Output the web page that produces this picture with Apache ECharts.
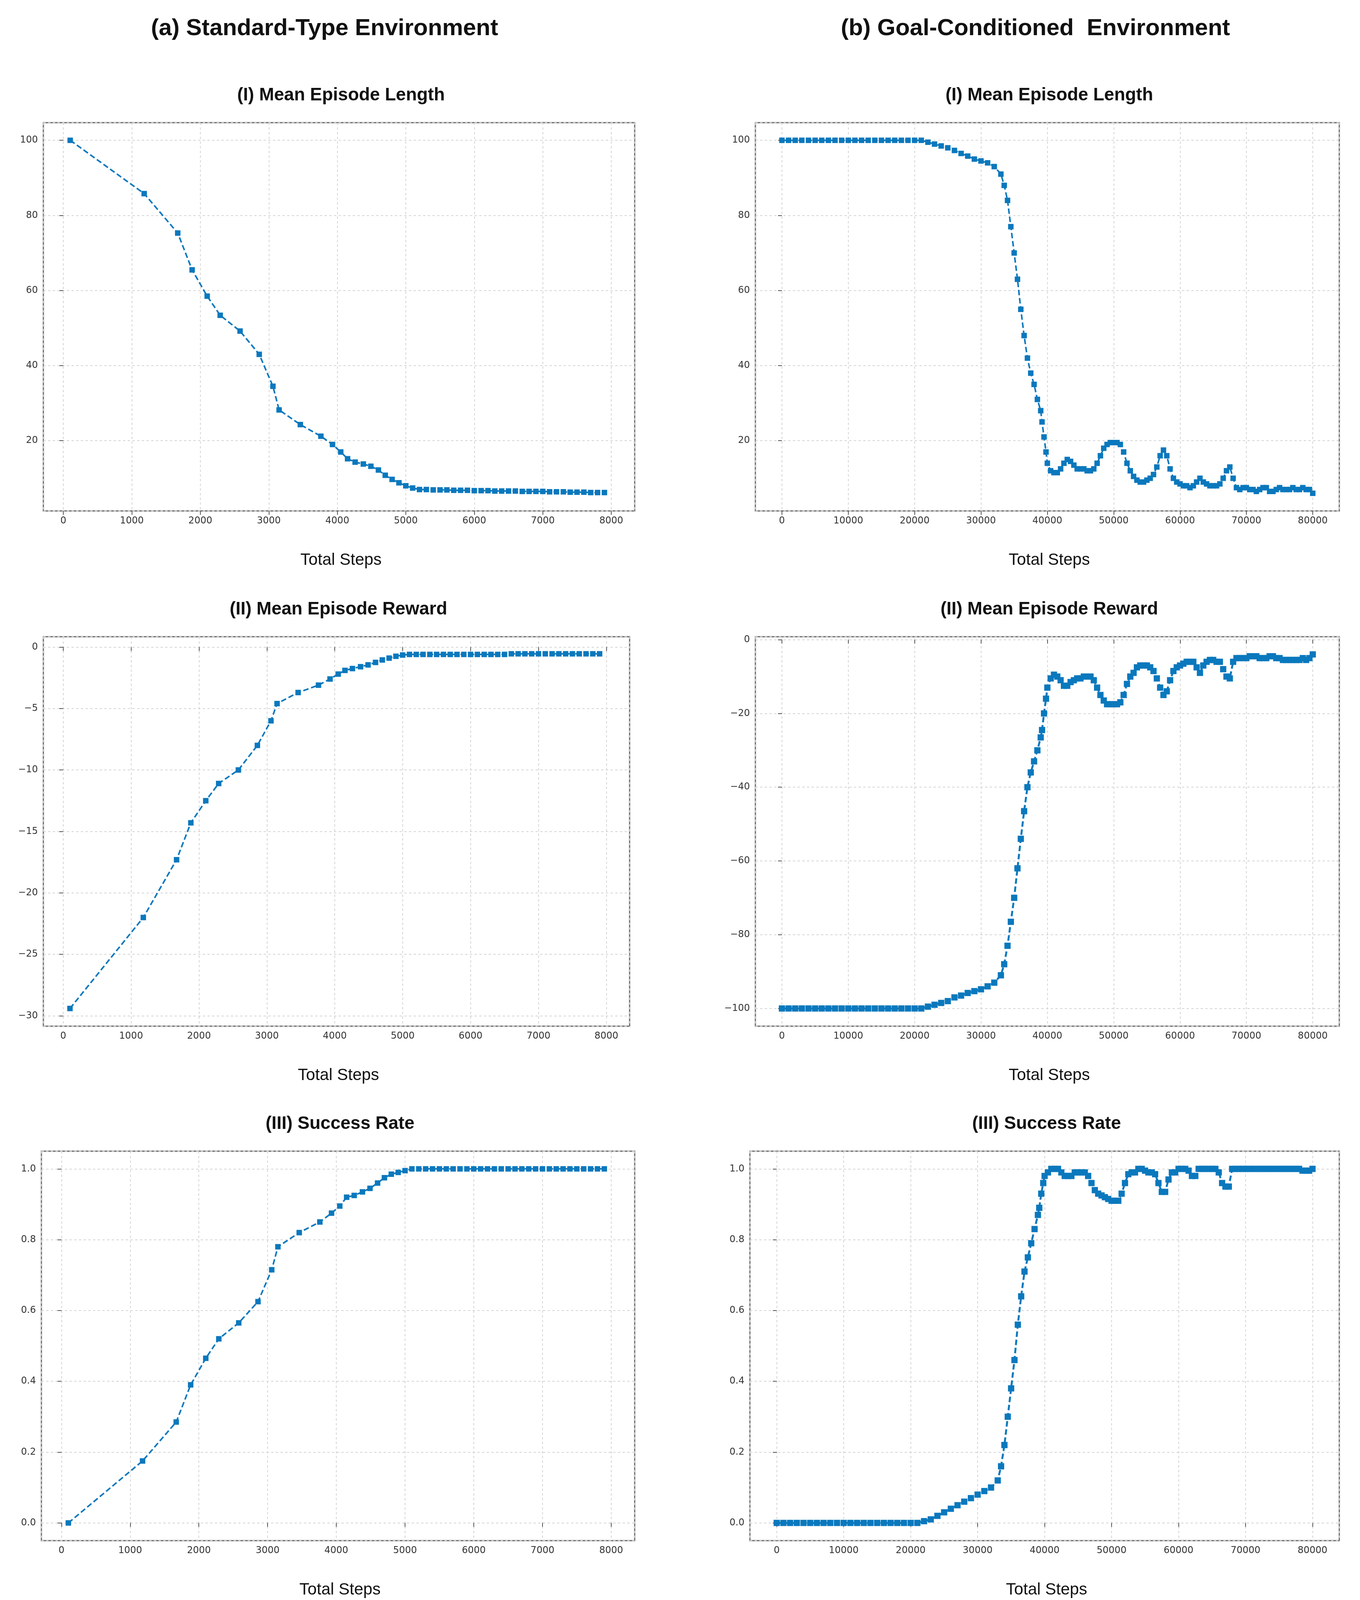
<!DOCTYPE html>
<html><head><meta charset="utf-8">
<script src="https://cdn.jsdelivr.net/npm/echarts@6/dist/echarts.min.js"></script>
<style>html,body{margin:0;padding:0;background:#fff}#c{width:3482px;height:4130px}</style>
</head><body><div id="c"></div>
<script>
const stdSteps=[100,1180,1670,1880,2100,2290,2580,2860,3060,3150,3460,3760,3930,4050,4150,4260,4380,4490,4600,4700,4800,4900,5000,5100,
5200,5300,5400,5500,5600,5700,5800,5900,6000,6100,6200,6300,6400,6500,6600,6700,6800,6900,7000,7100,7200,7300,7400,7500,7600,7700,7800,7900];
const stdLength=[100,85.8,75.3,65.5,58.5,53.4,49.2,43,34.5,28.2,24.3,21.2,19,17,15.2,14.3,13.8,13.2,12.2,10.8,9.7,8.8,8,7.4,
7,7,6.9,6.9,6.9,6.8,6.8,6.8,6.7,6.7,6.7,6.6,6.6,6.6,6.6,6.5,6.5,6.5,6.5,6.4,6.4,6.4,6.3,6.3,6.3,6.2,6.2,6.2];
const stdReward=[-29.4,-22,-17.3,-14.3,-12.5,-11.1,-10,-8,-6,-4.6,-3.7,-3.1,-2.6,-2.2,-1.9,-1.75,-1.6,-1.45,-1.25,-1.05,-0.9,-0.75,-0.65,-0.6,
-0.6,-0.6,-0.6,-0.6,-0.6,-0.6,-0.6,-0.6,-0.6,-0.6,-0.6,-0.6,-0.6,-0.6,-0.55,-0.55,-0.55,-0.55,-0.55,-0.55,-0.55,-0.55,-0.55,-0.55,-0.55,-0.55,-0.55,-0.55];
const stdSuccess=[0,0.175,0.285,0.39,0.465,0.52,0.565,0.625,0.715,0.78,0.82,0.85,0.875,0.895,0.92,0.925,0.935,0.945,0.96,0.975,0.985,0.99,0.995,1,
1,1,1,1,1,1,1,1,1,1,1,1,1,1,1,1,1,1,1,1,1,1,1,1,1,1,1,1];

const goalSteps=[0,1000,2000,3000,4000,5000,6000,7000,8000,9000,10000,11000,12000,13000,14000,15000,16000,17000,18000,19000,20000,21000,
22000,23000,24000,25000,26000,27000,28000,29000,30000,31000,32000,33000,
33500,34000,34500,35000,35500,36000,36500,37000,37500,38000,38500,39000,
39200,39500,39800,40000,40500,
41000,41500,42000,42500,43000,43500,44000,44500,45000,45500,46000,46500,47000,47500,48000,48500,49000,49500,50000,50500,
51000,51500,52000,52500,53000,53500,54000,54500,55000,55500,
56000,56500,57000,57500,58000,58500,59000,59500,60000,60500,
61000,61500,62000,62500,63000,63500,64000,64500,65000,65500,
66000,66500,67000,67500,68000,68500,69000,69500,70000,70500,
71000,71500,72000,72500,73000,73500,74000,74500,75000,75500,
76000,76500,77000,77500,78000,78500,79000,79500,80000];
const goalLength=[100,100,100,100,100,100,100,100,100,100,100,100,100,100,100,100,100,100,100,100,100,100,
99.5,99,98.5,98,97.3,96.5,95.8,95,94.5,94,93,91,
88,84,77,70,63,55,48,42,38,35,31,28,
25,21,17,14,12,
11.5,11.5,12.5,14,15,14.5,13.5,12.5,12.5,12.5,12,12,12.5,14,16,18,19,19.5,19.5,19.5,
19,17,14,12,10.5,9.5,9,9,9.5,10,
11,13,16,17.5,16,12.5,10,9,8.5,8,
8,7.5,8,9,10,9,8.5,8,8,8,
8.5,10,12,13,10,7.5,7,7.5,7.5,7,
7,6.5,7,7.5,7.5,6.5,6.5,7,7.5,7,
7,7,7.5,7,7,7.5,7,7,6];
const goalReward=[-100,-100,-100,-100,-100,-100,-100,-100,-100,-100,-100,-100,-100,-100,-100,-100,-100,-100,-100,-100,-100,-100,
-99.5,-99,-98.5,-98,-97,-96.5,-95.8,-95.3,-94.8,-94,-93,-91,
-88,-83,-76.5,-70,-62,-54,-46.5,-40,-36,-33,-30,-26.5,
-24.5,-20,-16,-13,-10.5,
-9.5,-10,-11,-12.5,-12.5,-11.5,-11,-10.5,-10.5,-10,-10,-10,-11,-13,-15,-16.5,-17.5,-17.5,-17.5,-17.5,
-17,-15,-12,-10,-9,-7.5,-7,-7,-7,-7.5,
-8.5,-10.5,-13,-15,-14,-11,-8.5,-7.5,-7,-6.5,
-6,-6,-6,-7.5,-9,-7,-6,-5.5,-5.5,-6,
-6,-8,-10,-10.5,-6,-5,-5,-5,-5,-4.5,
-4.5,-4.5,-5,-5,-5,-4.5,-4.5,-5,-5,-5.5,
-5.5,-5.5,-5.5,-5.5,-5.5,-5,-5.5,-5,-4];
const goalSuccess=[0,0,0,0,0,0,0,0,0,0,0,0,0,0,0,0,0,0,0,0,0,0,
0.005,0.01,0.02,0.03,0.04,0.05,0.06,0.07,0.08,0.09,0.1,0.12,
0.16,0.22,0.3,0.38,0.46,0.56,0.64,0.71,0.75,0.79,0.83,0.87,
0.89,0.93,0.96,0.98,0.99,
1,1,1,0.99,0.98,0.98,0.98,0.99,0.99,0.99,0.99,0.98,0.96,0.94,0.93,0.925,0.92,0.915,0.91,0.91,
0.91,0.93,0.96,0.985,0.99,0.99,1,1,0.995,0.99,
0.99,0.985,0.96,0.935,0.935,0.97,0.99,0.99,1,1,
1,0.995,0.98,0.98,1,1,1,1,1,1,
0.99,0.96,0.95,0.95,1,1,1,1,1,1,
1,1,1,1,1,1,1,1,1,1,
1,1,1,1,1,0.995,0.995,0.995,1];

const headers=['(a) Standard-Type Environment','(b) Goal-Conditioned  Environment'];
const subTitles=['(I) Mean Episode Length','(II) Mean Episode Reward','(III) Success Rate'];
const xLabel='Total Steps';

const COLOR='#0a78bd';
const grids=[
 {left:111,right:1857,top:314,height:994},
 {left:1934,right:53,top:314,height:994},
 {left:111,right:1870,top:1630,height:997},
 {left:1934,right:53,top:1630,height:997},
 {left:106,right:1857,top:2947,height:997},
 {left:1920,right:53,top:2947,height:997}
];
const panels=[
 {x:stdSteps,y:stdLength,xr:[-292,8342],xi:1000,yr:[1.3,104.7],yi:20,fmt:v=>String(v),sym:14,lw:4},
 {x:goalSteps,y:goalLength,xr:[-4000,84000],xi:10000,yr:[1.3,104.7],yi:20,fmt:v=>String(v),sym:14,lw:4},
 {x:stdSteps,y:stdReward,xr:[-292,8342],xi:1000,yr:[-30.84,0.84],yi:5,fmt:v=>String(v).replace('-','\u2212'),sym:14,lw:4},
 {x:goalSteps,y:goalReward,xr:[-4000,84000],xi:10000,yr:[-104.8,0.8],yi:20,fmt:v=>String(v).replace('-','\u2212'),sym:16,lw:5},
 {x:stdSteps,y:stdSuccess,xr:[-292,8342],xi:1000,yr:[-0.05,1.05],yi:0.2,fmt:v=>v.toFixed(1),sym:14,lw:4},
 {x:goalSteps,y:goalSuccess,xr:[-4000,84000],xi:10000,yr:[-0.05,1.05],yi:0.2,fmt:v=>v.toFixed(1),sym:16,lw:5}
];
const gridLine={show:true,lineStyle:{color:'#d4d4d4',type:[6,6],width:2}};
const axisCommon={axisLine:{show:false},axisTick:{show:true,length:10,lineStyle:{color:'#555',width:2}},
 axisLabel:{color:'#333',fontSize:24,fontFamily:'DejaVu Sans',margin:14,showMinLabel:false,showMaxLabel:false}};
const option={backgroundColor:'#fff',animation:false,title:[],grid:[],xAxis:[],yAxis:[],series:[]};
panels.forEach((p,i)=>{
 const g=grids[i];
 option.grid.push(Object.assign({show:true,borderColor:'#666',borderWidth:3,backgroundColor:'transparent'},g));
 option.xAxis.push({type:'value',gridIndex:i,min:p.xr[0],max:p.xr[1],minInterval:p.xi,maxInterval:p.xi,splitLine:gridLine,
  axisLine:axisCommon.axisLine,axisTick:axisCommon.axisTick,axisLabel:Object.assign({},axisCommon.axisLabel,{formatter:v=>String(v)})});
 option.yAxis.push({type:'value',gridIndex:i,min:p.yr[0],max:p.yr[1],minInterval:p.yi,maxInterval:p.yi,splitLine:gridLine,
  axisLine:axisCommon.axisLine,axisTick:axisCommon.axisTick,axisLabel:Object.assign({},axisCommon.axisLabel,{formatter:p.fmt})});
 option.series.push({type:'line',xAxisIndex:i,yAxisIndex:i,data:p.x.map((v,k)=>[v,p.y[k]]),symbol:'rect',symbolSize:p.sym,
  itemStyle:{color:COLOR},lineStyle:{color:COLOR,width:p.lw,type:[14,7]}});
 const cx=g.left+((3482-g.right-g.left)/2);
 const row=Math.floor(i/2);
 option.title.push({text:subTitles[row],left:cx,top:g.top-98,textAlign:'center',
  textStyle:{fontSize:46,fontWeight:'bold',fontFamily:'Liberation Sans',color:'#111'}});
 option.title.push({text:xLabel,left:cx,top:g.top+g.height+100,textAlign:'center',
  textStyle:{fontSize:42,fontWeight:'normal',fontFamily:'Liberation Sans',color:'#111'}});
});
option.title.push({text:headers[0],left:826,top:38,textAlign:'center',textStyle:{fontSize:60,fontWeight:'bold',fontFamily:'Liberation Sans',color:'#111'}});
option.title.push({text:headers[1],left:2646,top:38,textAlign:'center',textStyle:{fontSize:60,fontWeight:'bold',fontFamily:'Liberation Sans',color:'#111'}});
const chart=echarts.init(document.getElementById('c'));
chart.setOption(option);
</script></body></html>
